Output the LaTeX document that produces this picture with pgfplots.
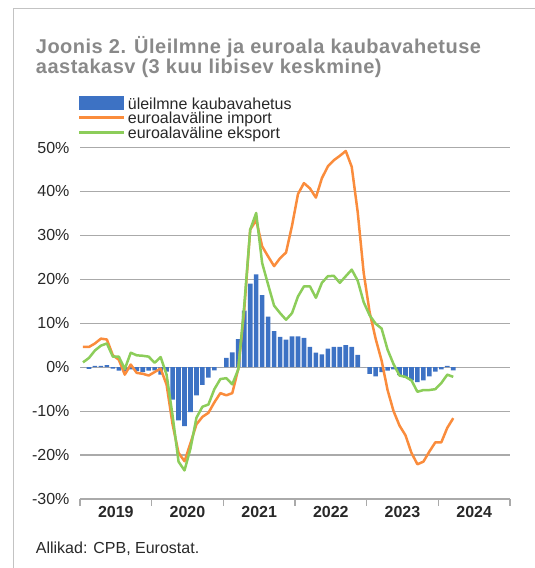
\documentclass[border=0pt]{standalone}
\usepackage{fontspec}
\setmainfont{Liberation Sans}
\usepackage{pgfplots}
\usepackage{pgfplotstable}
\pgfplotsset{compat=1.18}
\definecolor{barblue}{RGB}{61,114,196}
\definecolor{impor}{RGB}{250,140,60}
\definecolor{expor}{RGB}{140,205,90}
\definecolor{gridgray}{RGB}{170,170,170}
\definecolor{titlegray}{RGB}{137,137,137}
\definecolor{txt}{RGB}{40,40,40}
\definecolor{framegray}{RGB}{195,195,195}

\pgfplotstableread{
m bar imp exp
0 0 4.6 1.1
1 -0.4 4.6 2.1
2 0.3 5.4 3.8
3 0.3 6.5 4.9
4 0.45 6.3 5.4
5 -0.3 2.7 2.4
6 -0.8 1.7 2.4
7 -0.9 -1.7 -0.4
8 -0.5 0.6 3.3
9 -0.9 -1.3 2.7
10 -1.1 -1.5 2.6
11 -0.8 -1.9 2.4
12 -0.7 -1.1 1.0
13 -1.7 -0.3 2.3
14 -1.0 -4.0 -1.7
15 -7.4 -13.0 -11.0
16 -12.1 -19.5 -21.5
17 -13.4 -21.4 -23.5
18 -10.2 -17.3 -18.5
19 -6.4 -13.0 -11.5
20 -4.0 -11.3 -9.0
21 -2.4 -10.4 -8.5
22 -0.7 -8.0 -5.0
23 0 -5.9 -2.7
24 2.1 -6.4 -2.5
25 3.4 -5.9 -3.9
26 6.4 -0.4 -0.5
27 12.9 13.0 14.0
28 19.0 31.3 31.3
29 21.1 33.5 35.1
30 16.4 27.5 23.7
31 11.5 25.2 18.8
32 8.2 23.0 14.0
33 6.9 24.8 12.3
34 6.3 26.1 10.8
35 7.0 32.2 12.3
36 7.0 39.4 16.1
37 6.7 41.9 18.4
38 4.6 40.7 18.4
39 3.3 38.6 15.8
40 2.9 43.0 19.2
41 4.2 45.7 20.7
42 4.6 47.1 20.8
43 4.6 48.1 19.2
44 5.0 49.2 20.7
45 4.6 45.6 22.2
46 2.8 35.3 19.7
47 0 21.5 14.8
48 -1.5 12.5 11.8
49 -2.1 6.5 9.9
50 -1.1 1.5 8.8
51 -0.8 -5.2 4.0
52 -0.5 -10.0 0.7
53 -1.8 -13.3 -1.9
54 -2.4 -15.5 -2.2
55 -3.0 -19.5 -3.0
56 -3.4 -22.1 -5.6
57 -3.0 -21.5 -5.2
58 -2.1 -19.2 -5.2
59 -1.0 -17.1 -5.0
60 -0.5 -17.1 -3.6
61 0.3 -13.8 -1.7
62 -0.7 -11.6 -2.2
}\data

\newfontfamily\titlefont[LetterSpace=2.5]{Liberation Sans}

\begin{document}
\begin{tikzpicture}[x=1pt,y=1pt]
\path[use as bounding box] (0,0) rectangle (535,568);
\draw[framegray, line width=1.2pt] (13.3,0) -- (13.3,559.7) -- (535,559.7);
\node[anchor=north west, inner sep=0, align=left, text=titlegray, font=\titlefont\fontsize{20}{17.4}\selectfont\bfseries] at (35.7,531.5) {Joonis 2. Üleilmne ja euroala kaubavahetuse\\aastakasv (3 kuu libisev keskmine)};
% legend
\fill[barblue] (79,458) rectangle (124,472.3);
\draw[impor, line width=2.5pt] (79,450.7) -- (124,450.7);
\draw[expor, line width=2.5pt] (79,435.7) -- (124,435.7);
\node[anchor=base west, inner sep=0, text=txt, font=\fontsize{16}{18}\selectfont] at (127.7,458.7) {üleilmne kaubavahetus};
\node[anchor=base west, inner sep=0, text=txt, font=\fontsize{16}{18}\selectfont] at (127.7,444) {euroalaväline import};
\node[anchor=base west, inner sep=0, text=txt, font=\fontsize{16}{18}\selectfont] at (127.7,429) {euroalaväline eksport};
% source
\node[anchor=base west, inner sep=0, text=txt, font=\fontsize{16}{18}\selectfont] at (35.7,15) {Allikad: CPB, Eurostat.};
\begin{axis}[
  at={(80pt,69pt)}, anchor=south west,
  scale only axis, width=430pt, height=351.5pt,
  xmin=-0.5, xmax=71.5, ymin=-30, ymax=50,
  clip=false,
  axis lines*=left,
  x axis line style={gridgray, line width=1.2pt},
  y axis line style={draw=none},
  ymajorgrids, grid style={gridgray, line width=1.2pt},
  ytick={-30,-20,-10,0,10,20,30,40,50},
  yticklabels={-30\%,-20\%,-10\%,0\%,10\%,20\%,30\%,40\%,50\%},
  ytick style={draw=none},
  yticklabel style={font=\fontsize{16}{18}\selectfont, text=txt},
  xtick={-0.5,11.5,23.5,35.5,47.5,59.5,71.5},
  xticklabels={},
  tick align=outside, major tick length=7pt,
  xtick style={gridgray, line width=1.2pt},
  extra x ticks={5.5,17.5,29.5,41.5,53.5,65.5},
  extra x tick labels={2019,2020,2021,2022,2023,2024},
  extra x tick style={major tick length=0pt, grid=none,
     xticklabel style={font=\fontsize{16}{18}\selectfont\bfseries, text=txt, anchor=base, yshift=-18.7pt}},
]
\addplot[ybar, bar width=4.6pt, bar shift=0pt, fill=barblue, draw=none] table[x=m, y=bar] {\data};
\addplot[impor, line width=2.5pt, line join=round, mark=none] table[x=m, y=imp] {\data};
\addplot[expor, line width=2.5pt, line join=round, mark=none] table[x=m, y=exp] {\data};
\end{axis}
\end{tikzpicture}
\end{document}
